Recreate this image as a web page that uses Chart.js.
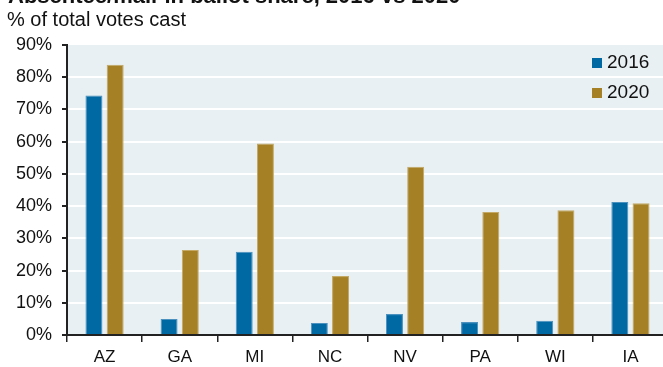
<!DOCTYPE html>
<html>
<head>
<meta charset="utf-8">
<script src="https://cdn.jsdelivr.net/npm/chart.js@4.4.1/dist/chart.umd.min.js"></script>
<style>
  html, body { margin: 0; padding: 0; background: #fff; overflow: hidden; }
  #wrap { position: relative; width: 663px; height: 367px; overflow: hidden; }
  #title { position: absolute; left: 8px; top: -15px; font: bold 22px "Liberation Sans", Arial, sans-serif; line-height: 22px; color: #111; white-space: nowrap; }
  #subtitle { position: absolute; left: 7px; top: 9px; font: 20px "Liberation Sans", Arial, sans-serif; line-height: 20px; color: #111; white-space: nowrap; }
  canvas { position: absolute; left: 0; top: 0; }
</style>
</head>
<body>
<div id="wrap">
  <canvas id="chart" width="668" height="367" style="width:668px;height:367px"></canvas>
  <div id="title">Absentee/mail-in ballot share, 2016 vs 2020</div>
  <div id="subtitle">% of total votes cast</div>
</div>
<script>
const states = ["AZ", "GA", "MI", "NC", "NV", "PA", "WI", "IA"];
const share2016 = [74.3, 5.0, 25.8, 3.7, 6.5, 4.0, 4.4, 41.3];
const share2020 = [83.9, 26.4, 59.4, 18.3, 52.2, 38.2, 38.7, 40.9];
const yTicks = [0, 10, 20, 30, 40, 50, 60, 70, 80, 90];

const plotBg = {
  id: "plotBg",
  beforeDraw(chart) {
    const { ctx, chartArea: a } = chart;
    ctx.save();
    ctx.fillStyle = "#e9f0f3";
    ctx.fillRect(a.left, a.top, a.right - a.left, a.bottom - a.top);
    ctx.restore();
  }
};

// legend drawn inside the plot, top right
const innerLegend = {
  id: "innerLegend",
  afterDraw(chart) {
    const ctx = chart.ctx;
    ctx.save();
    ctx.font = '19px "Liberation Sans", Arial, sans-serif';
    ctx.textBaseline = "middle";
    chart.data.datasets.forEach((ds, i) => {
      const y = 63 + i * 30;
      ctx.fillStyle = ds.backgroundColor;
      ctx.fillRect(592, y - 5, 10, 10);
      ctx.fillStyle = "#111";
      ctx.fillText(ds.label, 607, y);
    });
    ctx.restore();
  }
};

new Chart(document.getElementById("chart"), {
  type: "bar",
  data: {
    labels: states,
    datasets: [
      { label: "2016", data: share2016, backgroundColor: "#0068a3", borderColor: "#4a91c0", borderWidth: 1 },
      { label: "2020", data: share2020, backgroundColor: "#a58024", borderColor: "#c3a866", borderWidth: 1 }
    ]
  },
  options: {
    responsive: false,
    animation: false,
    layout: { padding: { top: 45, right: 0, left: 0, bottom: 0 } },
    categoryPercentage: 0.565,
    barPercentage: 0.8,
    plugins: { legend: { display: false }, tooltip: { enabled: false } },
    scales: {
      x: {
        afterFit: s => { s.height = 32; },
        grid: { offset: true, drawOnChartArea: false, tickLength: 7, tickColor: "#222", lineWidth: 1.5 },
        border: { color: "#222", width: 2 },
        ticks: { color: "#111", padding: 5, font: { family: '"Liberation Sans", Arial, sans-serif', size: 17 } }
      },
      y: {
        min: 0,
        max: 90,
        afterFit: s => { s.width = 67; },
        afterBuildTicks: s => { s.ticks = yTicks.map(v => ({ value: v })); },
        grid: {
          color: c => (c.tick && (c.tick.value === 0 || c.tick.value === 90)) ? "rgba(0,0,0,0)" : "#ffffff",
          lineWidth: 2,
          tickLength: 5,
          tickColor: "#222"
        },
        border: { color: "#222", width: 2 },
        ticks: { color: "#111", padding: 10, callback: v => v + "%", font: { family: '"Liberation Sans", Arial, sans-serif', size: 18 } }
      }
    }
  },
  plugins: [plotBg, innerLegend]
});
</script>
</body>
</html>
